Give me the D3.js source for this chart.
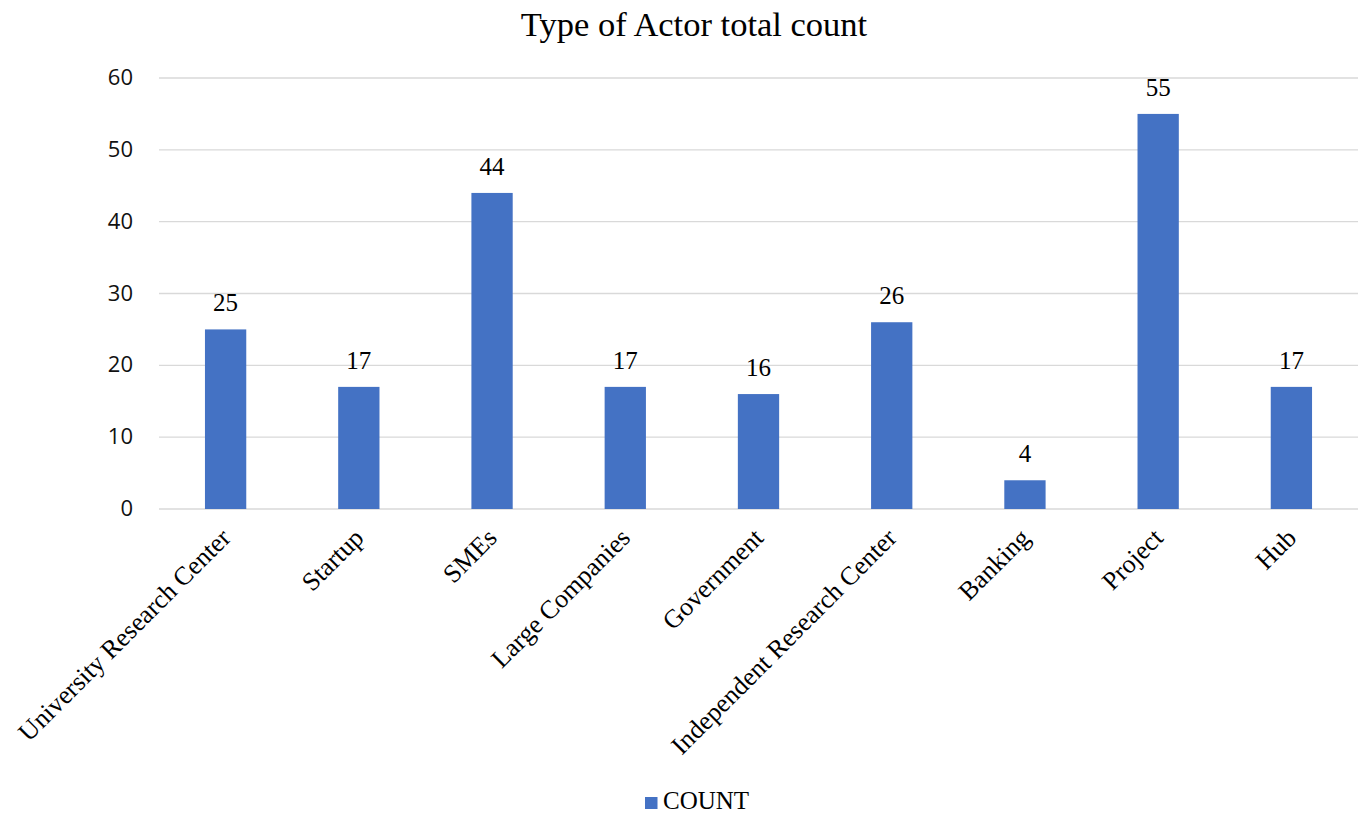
<!DOCTYPE html>
<html>
<head>
<meta charset="utf-8">
<script src="https://cdn.jsdelivr.net/npm/d3@7/dist/d3.min.js"></script>
<style>
  html, body { margin: 0; padding: 0; background: #fff; }
  svg { display: block; font-family: "Liberation Serif", "Times New Roman", serif; }
</style>
</head>
<body>
<svg id="chart" width="1363" height="813"></svg>
<script>
// Actor types and their counts
const categories = ["University Research Center", "Startup", "SMEs", "Large Companies",
  "Government", "Independent Research Center", "Banking", "Project", "Hub"];
const counts = [25, 17, 44, 17, 16, 26, 4, 55, 17];
const yTicks = [0, 10, 20, 30, 40, 50, 60];
const seriesName = "COUNT";
const titleText = "Type of Actor total count";

const svg = d3.select("#chart");
const margin = { left: 159, right: 5, top: 78, bottom: 304 };
const W = 1363, H = 813;

const x = d3.scaleBand()
  .domain(categories)
  .range([margin.left, W - margin.right])
  .paddingInner(0.69)
  .paddingOuter(0.345);

const y = d3.scaleLinear().domain([0, 60]).range([H - margin.bottom, margin.top]);

// Title
svg.append("text")
  .attr("x", 694).attr("y", 36)
  .attr("text-anchor", "middle")
  .attr("font-size", 34.5)
  .attr("fill", "#000")
  .text(titleText);

// Horizontal gridlines
svg.append("g")
  .selectAll("line")
  .data(yTicks)
  .join("line")
  .attr("x1", margin.left).attr("x2", 1358)
  .attr("y1", d => y(d)).attr("y2", d => y(d))
  .attr("stroke", "#d9d9d9").attr("stroke-width", 1.3);

// Y axis labels
const yAxis = d3.axisLeft(y).tickValues(yTicks).tickSize(0).tickPadding(0);
const gy = svg.append("g").attr("transform", "translate(133,0)").call(yAxis);
gy.select(".domain").remove();
gy.selectAll("text")
  .attr("font-family", "'Open Sans', 'Noto Sans', sans-serif")
  .attr("font-size", 22)
  .attr("fill", "#111")
  .attr("dy", "0.3em");

// Bars
svg.append("g")
  .selectAll("rect")
  .data(counts)
  .join("rect")
  .attr("x", (d, i) => x(categories[i]))
  .attr("width", x.bandwidth())
  .attr("y", d => y(d))
  .attr("height", d => y(0) - y(d))
  .attr("fill", "#4472c4");

// Value labels
svg.append("g")
  .selectAll("text")
  .data(counts)
  .join("text")
  .attr("x", (d, i) => x(categories[i]) + x.bandwidth() / 2)
  .attr("y", d => y(d) - 18)
  .attr("text-anchor", "middle")
  .attr("font-size", 25)
  .attr("fill", "#000")
  .text(d => d);

// Category labels, rotated
const xAxis = d3.axisBottom(x).tickSize(0).tickPadding(0);
const gx = svg.append("g").attr("transform", `translate(0,${y(0)})`).call(xAxis);
gx.select(".domain").remove();
gx.selectAll("text")
  .attr("font-family", "Liberation Serif, Times New Roman, serif")
  .attr("font-size", 26)
  .attr("fill", "#000")
  .attr("text-anchor", "end")
  .attr("dy", "0.35em")
  .attr("transform", "translate(0,24) rotate(-45)");

// Legend
const lg = svg.append("g").attr("transform", "translate(645,797)");
lg.append("rect").attr("width", 12.5).attr("height", 12).attr("fill", "#4472c4");
lg.append("text")
  .attr("x", 18).attr("y", 12)
  .attr("font-size", 25)
  .attr("fill", "#000")
  .text(seriesName);
</script>
</body>
</html>
